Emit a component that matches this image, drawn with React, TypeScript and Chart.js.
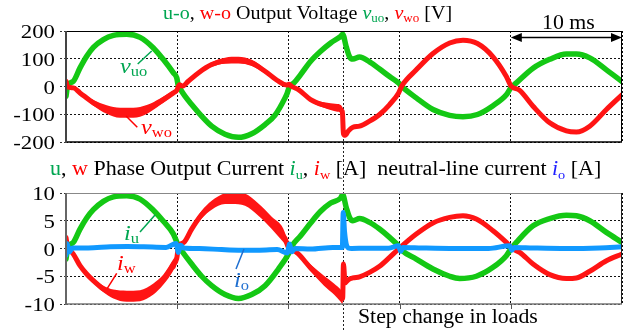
import React, { useEffect, useRef } from "react";
import { Chart, registerables } from "chart.js";
Chart.register(...registerables);

// ---------- data (time in ms) ----------
const vuoT = [0, 0.15, 0.66, 1.26, 1.86, 2.46, 3.36, 4.26, 5.46, 6.66, 7.86, 8.76, 9.66, 9.96, 10.1, 10.3, 10.7, 11.3, 12.2, 13.1, 14.3, 15.5, 16.7, 17.9, 18.8, 19.7, 19.9, 20.1, 20.5, 21.1, 22.0, 22.9, 23.8, 24.7, 24.88, 25.2, 25.5, 25.8, 26.4, 27.3, 28.2, 29.1, 29.9, 30.2, 31.5, 33, 34.5, 35.7, 37, 38.4, 39.6, 40, 40.5, 42, 43.5, 45, 45.9, 47.1, 48.6, 50];
const vuoV = [-35, 2, 19, 67, 109, 141, 169, 184, 188, 177, 139, 97, 49, 31, 2, -11, -35, -65, -107, -143, -172, -183, -170, -137, -103, -41, -23, 0, 13, 43, 91, 127, 157, 181, 188, 143, 107, 99, 106, 89, 63, 36, 13, 0, -41, -83, -104, -109, -101, -69, -30, -5, 13, 66, 98, 117, 117, 103, 60, 18];

const vwoT = [0, 0.15, 0.66, 1.26, 2.46, 3.66, 4.86, 6.06, 7.26, 8.46, 9.66, 9.96, 10.2, 10.5, 11.0, 11.9, 13.1, 14.3, 15.5, 16.7, 17.9, 19.1, 19.85, 20.05, 20.3, 20.9, 22.0, 23.2, 24.4, 24.85, 24.95, 25.1, 25.4, 25.8, 26.4, 27.3, 28.2, 29.1, 29.9, 30.2, 31.5, 33, 34.5, 35.7, 37, 38.4, 39.6, 40, 40.8, 42, 43.5, 45, 45.9, 47.1, 48.6, 50];
const vwoV = [19, -2, -5, -23, -59, -83, -95, -95, -83, -55, -23, -14, 6, 2, 19, 49, 79, 93, 95, 85, 55, 19, 5, 8, 0, -11, -47, -67, -77, -90, -170, -176, -160, -147, -143, -125, -101, -65, -24, 2, 60, 119, 157, 167, 155, 107, 36, 3, -14, -71, -131, -160, -164, -143, -83, -30];
// ripple half-width (V) of the vwo trace
const vwoRip = [0, 0, 0, 4, 10, 15, 18, 18, 16, 12, 8, 4, 0, 0, 0, 4, 8, 11, 12, 11, 8, 4, 0, 0, 0, 0, 6, 10, 14, 16, 0, 0, 0, 0, 0, 0, 0, 0, 0, 0, 0, 0, 0, 0, 0, 0, 0, 0, 0, 0, 0, 0, 0, 0, 0, 0];

const iuT = [0, 0.15, 0.66, 1.26, 1.86, 2.46, 3.36, 4.26, 5.46, 6.66, 7.86, 8.76, 9.66, 10.1, 10.4, 11.3, 12.2, 13.1, 14.3, 15.5, 16.7, 17.9, 19.1, 20.0, 20.3, 21.1, 22.0, 22.9, 23.8, 24.7, 24.88, 25.2, 25.5, 25.8, 26.4, 27.3, 28.2, 29.1, 29.9, 30.2, 31.5, 33, 34.5, 35.4, 36.9, 38.4, 39.6, 40, 40.5, 42, 43.5, 45, 45.9, 47.1, 48.6, 50];
const iuV = [-1.9, 0, 1.1, 3.5, 5.5, 7.0, 8.5, 9.3, 9.5, 8.9, 6.9, 4.9, 2.6, 0.5, -0.4, -2.8, -5.0, -6.7, -8.3, -9.0, -8.3, -6.7, -3.7, -1.0, 0.4, 2.3, 4.6, 6.7, 8.2, 9.1, 9.7, 7.4, 5.6, 5.0, 5.4, 4.7, 3.5, 2.0, 0.5, -0.3, -1.9, -3.7, -5.0, -5.4, -5.0, -3.4, -1.3, -0.1, 1.1, 4.1, 5.4, 6.0, 5.9, 5.0, 2.9, 1.1];

const iwT = [0, 0.15, 0.4, 0.66, 1.26, 1.86, 2.46, 3.36, 4.26, 5.46, 6.66, 7.86, 8.76, 9.66, 9.96, 10.1, 10.6, 11.3, 12.2, 13.1, 14.3, 14.9, 16.1, 17.3, 18.5, 19.7, 20.0, 20.3, 20.9, 22.0, 23.2, 24.1, 24.7, 24.88, 24.95, 25.1, 25.4, 25.8, 26.4, 27.3, 28.2, 29.1, 29.9, 31.5, 33, 34.5, 35.7, 36.9, 38.4, 39.6, 40.2, 40.8, 42, 43.5, 45, 45.9, 47.1, 48.6, 50];
const iwV = [2.0, 0.2, -0.4, -1.0, -3.1, -4.6, -5.8, -7.3, -8.2, -8.6, -8.5, -7.3, -5.6, -2.9, -1.8, 0.2, 1.1, 3.5, 6.1, 7.8, 9.0, 9.1, 8.8, 7.0, 4.6, 1.8, 0.2, -0.1, -1.0, -3.5, -5.8, -7.3, -8.5, -9.0, -2.8, -6.2, -5.6, -5.3, -5.1, -4.3, -3.2, -1.6, -0.1, 2.6, 4.6, 5.6, 5.9, 5.3, 3.2, 1.1, -0.1, -0.7, -2.8, -4.7, -5.4, -5.3, -4.1, -2.2, -1.0];
// ripple half-width (A) of the iw trace
const iwRip = [0, 0, 0, 0, 0.2, 0.3, 0.4, 0.6, 0.8, 1.0, 1.0, 1.0, 0.9, 1.0, 0.8, 0, 0.3, 0.5, 0.7, 0.8, 1.0, 1.1, 1.1, 1.1, 1.1, 1.0, 0, 0, 0.3, 0.6, 0.9, 1.0, 1.1, 1.1, 0, 0, 0, 0, 0, 0, 0, 0, 0, 0, 0, 0, 0, 0, 0, 0, 0, 0, 0, 0, 0, 0, 0, 0, 0];

const ioT = [0, 0.1, 0.3, 0.6, 2, 4, 5.5, 7, 9, 9.9, 10.1, 10.3, 10.6, 12, 14, 15.5, 17, 19, 19.9, 20.1, 20.3, 20.6, 22, 24, 24.85, 24.93, 25.05, 25.2, 25.4, 25.7, 27, 29, 29.9, 30.1, 30.3, 32, 35, 38, 39.9, 40.1, 40.3, 42, 45, 48, 50];
const ioV = [-1.2, 0.9, -0.6, 0.1, 0.1, 0.3, 0.35, 0.3, 0.2, 0.9, -0.7, 0.6, 0.1, 0, -0.2, -0.3, -0.3, -0.2, -0.8, 0.8, -0.6, 0, -0.1, 0.2, 0.2, 6.5, 3.0, 0.8, 0.1, 0.0, 0.05, 0.05, 0.5, -0.5, 0.2, 0.1, 0, 0, 0.5, -0.3, 0.2, 0.1, 0, 0.1, 0.3];

const xTicks = [0, 10, 20, 30, 40, 50];
const vTicks = [-200, -100, 0, 100, 200];
const iTicks = [-10, -5, 0, 5, 10];
const STEP_T = 24.88;
const SCALE_BAR = [40, 50];

// ---------- styles ----------
const GREEN = "#14c814";
const RED = "#ff1414";
const BLUE = "#1199ff";
const TXT_GREEN = "#00a651";
const TXT_RED = "#ff0000";
const TXT_BLUE = "#1f6fd0";
const SERIF = "'Liberation Serif', 'Times New Roman', serif";

const pts = (t: number[], v: number[]) => t.map((x, i) => ({ x, y: v[i] }));
const ptsOff = (t: number[], v: number[], r: number[], s: number) => t.map((x, i) => ({ x, y: v[i] + s * r[i] }));

type FrameCfg = {
  top: string; right: string; bottom: string; left: string;
  bottomW: number; leftW: number; downTicks: boolean; stepFromTop: boolean; arrow: boolean;
};

const framePlugin = (cfg: FrameCfg) => ({
  id: "frame",
  beforeDatasetsDraw(chart: any) {
    const { ctx, chartArea: a, scales } = chart;
    const x = Math.round(scales.x.getPixelForValue(STEP_T)) + 0.5;
    ctx.save();
    ctx.strokeStyle = "#222";
    ctx.lineWidth = 1;
    ctx.setLineDash([2, 2]);
    ctx.beginPath();
    ctx.moveTo(x, cfg.stepFromTop ? a.top : 0);
    ctx.lineTo(x, chart.height);
    ctx.stroke();
    ctx.restore();
  },
  afterDatasetsDraw(chart: any) {
    const { ctx, chartArea: a, scales } = chart;
    ctx.save();
    ctx.setLineDash([]);
    const line = (x1: number, y1: number, x2: number, y2: number, c: string, w: number) => {
      ctx.strokeStyle = c; ctx.lineWidth = w;
      ctx.beginPath(); ctx.moveTo(x1, y1); ctx.lineTo(x2, y2); ctx.stroke();
    };
    line(a.left, a.top + 0.5, a.right, a.top + 0.5, cfg.top, 1);
    line(a.right - 0.5, a.top, a.right - 0.5, a.bottom, cfg.right, 1);
    line(a.left, a.bottom, a.right, a.bottom, cfg.bottom, cfg.bottomW);
    line(a.left, a.top, a.left, a.bottom + 1, cfg.left, cfg.leftW);
    if (cfg.downTicks) {
      for (const t of xTicks.slice(1, -1)) {
        const x = Math.round(scales.x.getPixelForValue(t)) + 0.5;
        line(x, a.bottom, x, a.bottom + 5, "#555", 1);
      }
    }
    if (cfg.arrow) {
      const x1 = scales.x.getPixelForValue(SCALE_BAR[0]);
      const x2 = scales.x.getPixelForValue(SCALE_BAR[1]);
      const y = a.top + 6.5;
      line(x1 + 4, y, x2 - 4, y, "#000", 1.5);
      ctx.fillStyle = "#000";
      ctx.beginPath(); ctx.moveTo(x1, y); ctx.lineTo(x1 + 11, y - 4.5); ctx.lineTo(x1 + 11, y + 4.5); ctx.closePath(); ctx.fill();
      ctx.beginPath(); ctx.moveTo(x2, y); ctx.lineTo(x2 - 11, y - 4.5); ctx.lineTo(x2 - 11, y + 4.5); ctx.closePath(); ctx.fill();
    }
    // y tick labels (serif, slightly widened like the original print)
    const ys = scales.y;
    ctx.fillStyle = "#000";
    ctx.font = `19.5px ${SERIF}`;
    ctx.textAlign = "right";
    ctx.textBaseline = "alphabetic";
    for (const tk of ys.ticks) {
      const y = ys.getPixelForValue(tk.value);
      ctx.save();
      ctx.translate(a.left - 11, y + 7);
      ctx.scale(1.17, 1);
      ctx.fillText(String(tk.value), 0, 0);
      ctx.restore();
    }
    ctx.restore();
  },
});

const lineDs = (data: any[], color: string, order: number, width = 5) => ({
  data, borderColor: color, backgroundColor: color, order, borderWidth: width,
  pointRadius: 0, cubicInterpolationMode: "monotone" as const,
  borderCapStyle: "round" as const, borderJoinStyle: "round" as const, fill: false,
});
const bandDs = (data: any[], color: string, order: number, fill: any) => ({
  data, borderColor: color, backgroundColor: color, order, borderWidth: 0,
  pointRadius: 0, cubicInterpolationMode: "monotone" as const, fill,
});

const makeOptions = (yMin: number, yMax: number, ticks: number[], pad: any) => ({
  animation: false as const,
  responsive: false,
  maintainAspectRatio: false,
  layout: { padding: pad },
  plugins: { legend: { display: false }, tooltip: { enabled: false } },
  scales: {
    x: {
      type: "linear" as const, min: 0, max: 50,
      afterBuildTicks: (s: any) => { s.ticks = xTicks.map((v) => ({ value: v })); },
      afterFit: (s: any) => { s.height = 0; },
      ticks: { display: false },
      grid: { color: "#111", lineWidth: 1, drawTicks: false },
      border: { display: false, dash: [2, 2] },
    },
    y: {
      min: yMin, max: yMax,
      afterBuildTicks: (s: any) => { s.ticks = ticks.map((v) => ({ value: v })); },
      afterFit: (s: any) => { s.width = 66; },
      ticks: { display: false },
      grid: { color: "#111", lineWidth: 1, tickLength: 6, tickBorderDash: [2, 2], tickColor: "#333" },
      border: { display: false, dash: [2, 2] },
    },
  },
});

function useChart(ref: React.RefObject<HTMLCanvasElement>, build: () => any) {
  useEffect(() => {
    if (!ref.current) return;
    const c = new Chart(ref.current, build());
    return () => c.destroy();
  }, []);
}

const T = ({ left, base, size, sx = 1.1, children, style }: any) => (
  <div style={{ position: "absolute", left, top: base - 0.8375 * size, fontSize: size, lineHeight: `${size}px`, fontFamily: SERIF, whiteSpace: "nowrap", color: "#000", transform: `scaleX(${sx})`, transformOrigin: "0 0", ...style }}>
    {children}
  </div>
);

const Sym = ({ l, s, color, size }: any) => (
  <span style={{ color }}>
    <i>{l}</i>
    <span style={{ fontSize: size, position: "relative", top: size * 0.25 }}>{s}</span>
  </span>
);

const G = ({ children }: any) => <span style={{ color: TXT_GREEN }}>{children}</span>;
const R = ({ children }: any) => <span style={{ color: TXT_RED }}>{children}</span>;

export default function App() {
  const topRef = useRef<HTMLCanvasElement>(null);
  const botRef = useRef<HTMLCanvasElement>(null);

  useEffect(() => {
    document.body.style.margin = "0";
    document.body.style.background = "#fff";
  }, []);

  useChart(topRef, () => ({
    type: "line",
    data: {
      datasets: [
        bandDs(ptsOff(vwoT, vwoV, vwoRip, 1), RED, 1, "+1"),
        bandDs(ptsOff(vwoT, vwoV, vwoRip, -1), RED, 1, false),
        lineDs(pts(vwoT, vwoV), RED, 1),
        lineDs(pts(vuoT, vuoV), GREEN, 2, 5.5),
      ],
    },
    options: makeOptions(-200, 200, vTicks, { top: 31, right: 3, bottom: 18, left: 0 }),
    plugins: [framePlugin({ top: "#000", right: "#000", bottom: "#000", left: "#444", bottomW: 1.5, leftW: 2, downTicks: false, stepFromTop: true, arrow: true })],
  }));

  useChart(botRef, () => ({
    type: "line",
    data: {
      datasets: [
        lineDs(pts(ioT, ioV), BLUE, 0),
        bandDs(ptsOff(iwT, iwV, iwRip, 1), RED, 1, "+1"),
        bandDs(ptsOff(iwT, iwV, iwRip, -1), RED, 1, false),
        lineDs(pts(iwT, iwV), RED, 1),
        lineDs(pts(iuT, iuV), GREEN, 2, 5.5),
      ],
    },
    options: makeOptions(-10, 10, iTicks, { top: 33, right: 3, bottom: 27, left: 0 }),
    plugins: [framePlugin({ top: "#888", right: "#222", bottom: "#777", left: "#666", bottomW: 1.5, leftW: 2, downTicks: true, stepFromTop: false, arrow: false })],
  }));

  return (
    <div style={{ position: "relative", width: 625, height: 331, overflow: "hidden", background: "#fff" }}>
      <div style={{ position: "absolute", left: 0, top: 0 }}>
        <canvas ref={topRef} width={625} height={160} style={{ display: "block" }} />
      </div>
      <div style={{ position: "absolute", left: 0, top: 160 }}>
        <canvas ref={botRef} width={625} height={171} style={{ display: "block" }} />
      </div>

      {/* title of the voltage plot */}
      <T left={163} base={19.5} size={18.5} sx={1.085}>
        <G>u-o</G>, <R>w-o</R> Output Voltage <Sym l="v" s="uo" color={TXT_GREEN} size={12} />, <Sym l="v" s="wo" color={TXT_RED} size={12} /> [V]
      </T>
      <T left={542} base={29.3} size={21} sx={1.04}>10 ms</T>

      {/* title of the current plot */}
      <T left={50} base={175} size={20} sx={1.1}>
        <G>u</G>, <R>w</R> Phase Output Current <Sym l="i" s="u" color={TXT_GREEN} size={13} />, <Sym l="i" s="w" color={TXT_RED} size={13} /> [A]&nbsp;&nbsp;neutral-line current <Sym l="i" s="o" color="#2020ff" size={13} /> [A]
      </T>

      <T left={358} base={323} size={20} sx={1.09}>Step change in loads</T>

      {/* trace labels */}
      <T left={120} base={73} size={22}><Sym l="v" s="uo" color={TXT_GREEN} size={15} /></T>
      <T left={141} base={134} size={22}><Sym l="v" s="wo" color={TXT_RED} size={15} /></T>
      <T left={124} base={240} size={22}><Sym l="i" s="u" color={TXT_GREEN} size={15} /></T>
      <T left={117} base={270} size={22}><Sym l="i" s="w" color={TXT_RED} size={15} /></T>
      <T left={234} base={287} size={22}><Sym l="i" s="o" color={TXT_BLUE} size={15} /></T>

      <svg width={625} height={331} style={{ position: "absolute", left: 0, top: 0, pointerEvents: "none" }}>
        <line x1={137.7} y1={64} x2={151.7} y2={51} stroke={TXT_GREEN} strokeWidth={1.5} />
        <line x1={126} y1={116} x2={137.3} y2={127.3} stroke={TXT_RED} strokeWidth={1.5} />
        <line x1={140} y1={232} x2={155} y2={215} stroke={TXT_GREEN} strokeWidth={1.5} />
        <line x1={107.3} y1={288.3} x2={116.7} y2={273.3} stroke={TXT_RED} strokeWidth={1.5} />
        <line x1={236} y1={269} x2={244} y2={249} stroke={TXT_BLUE} strokeWidth={1.5} />
      </svg>
    </div>
  );
}
